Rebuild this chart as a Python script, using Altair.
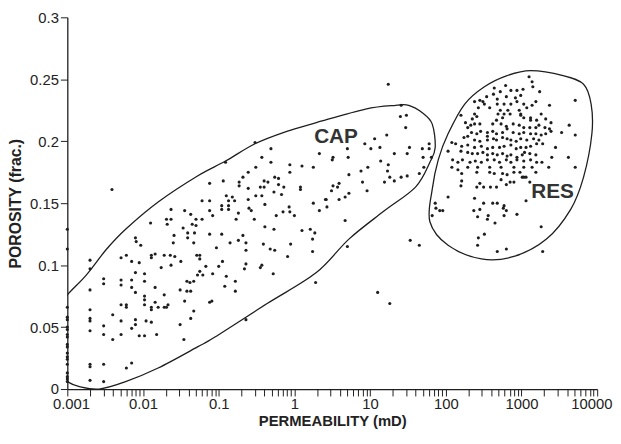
import altair as alt
import pandas as pd

# Porosity of samples plotted on the 0.001 mD axis line
axis_phi = [0.129, 0.113, 0.066, 0.058, 0.056, 0.050, 0.048, 0.044, 0.042, 0.036,
            0.034, 0.029, 0.026, 0.024, 0.020, 0.013, 0.010, 0.008, 0.006]

# Cap-rock samples: [log10 permeability (mD), porosity (frac.)]
cap_pts = [
    [-2.70, 0.104], [-2.70, 0.097], [-2.70, 0.080], [-2.70, 0.064], [-2.70, 0.057], [-2.70, 0.055],
    [-2.70, 0.047], [-2.70, 0.020], [-2.70, 0.018], [-2.70, 0.007],
    [-2.52, 0.089], [-2.52, 0.085], [-2.52, 0.051], [-2.52, 0.044], [-2.52, 0.020], [-2.52, 0.006],
    [-2.40, 0.060], [-2.40, 0.040], [-2.41, 0.161],
    [-2.29, 0.106], [-2.29, 0.088], [-2.29, 0.084], [-2.29, 0.068], [-2.29, 0.055], [-2.29, 0.044],
    [-2.22, 0.108], [-2.22, 0.068], [-2.22, 0.066], [-2.22, 0.017],
    [-2.15, 0.103], [-2.15, 0.088], [-2.15, 0.082], [-2.15, 0.049], [-2.15, 0.021],
    [-2.10, 0.094], [-2.10, 0.078], [-2.10, 0.056], [-2.10, 0.052],
    [-2.05, 0.102], [-2.05, 0.043],
    [-1.98, 0.093], [-1.98, 0.087], [-1.98, 0.075], [-1.98, 0.072], [-1.98, 0.068], [-1.98, 0.043], [-1.96, 0.055],
    [-1.89, 0.108], [-1.89, 0.106], [-1.89, 0.066], [-1.89, 0.064], [-1.89, 0.054],
    [-1.84, 0.109], [-1.84, 0.082], [-1.84, 0.070], [-1.82, 0.044], [-1.80, 0.066], [-1.76, 0.098],
    [-1.72, 0.108], [-1.72, 0.076], [-1.72, 0.066], [-1.69, 0.066], [-1.67, 0.068], [-1.64, 0.108],
    [-1.63, 0.100], [-1.58, 0.107],
    [-1.51, 0.080], [-1.51, 0.052], [-1.50, 0.103], [-1.46, 0.040], [-1.45, 0.071], [-1.42, 0.087], [-1.42, 0.079],
    [-1.37, 0.079], [-1.37, 0.057], [-1.33, 0.087], [-1.33, 0.063],
    [-2.10, 0.122], [-2.09, 0.119], [-2.03, 0.116], [-1.90, 0.134],
    [-1.69, 0.137], [-1.63, 0.137], [-1.68, 0.133], [-1.63, 0.145], [-1.59, 0.124], [-1.60, 0.118],
    [-1.47, 0.130], [-1.45, 0.144], [-1.41, 0.126], [-1.41, 0.122], [-1.37, 0.141], [-1.35, 0.133],
    [-1.32, 0.126], [-1.33, 0.118], [-1.30, 0.137], [-1.30, 0.132], [-1.29, 0.108], [-1.25, 0.108],
    [-1.22, 0.137], [-1.22, 0.152], [-1.12, 0.166], [-1.12, 0.152], [-1.12, 0.144], [-1.12, 0.125],
    [-1.08, 0.140], [-1.03, 0.114],
    [-0.96, 0.148], [-0.96, 0.145], [-0.96, 0.125], [-0.94, 0.168], [-0.91, 0.183], [-0.90, 0.156],
    [-0.87, 0.152], [-0.87, 0.148], [-0.87, 0.145], [-0.85, 0.118], [-0.82, 0.155], [-0.79, 0.152],
    [-0.77, 0.137], [-0.74, 0.142], [-0.74, 0.120], [-0.73, 0.167], [-0.73, 0.164], [-0.68, 0.171],
    [-0.68, 0.124], [-0.64, 0.118], [-0.64, 0.112], [-0.61, 0.175], [-0.61, 0.162], [-0.61, 0.153],
    [-0.60, 0.146], [-0.57, 0.144], [-0.53, 0.137], [-0.52, 0.199], [-0.51, 0.179], [-0.51, 0.156],
    [-0.31, 0.194], [-0.43, 0.187], [-0.31, 0.183], [-0.06, 0.181], [0.10, 0.180], [0.25, 0.179], [0.33, 0.190],
    [-0.40, 0.168], [-0.35, 0.167], [-0.45, 0.163], [-0.40, 0.163], [-0.26, 0.171], [-0.21, 0.170],
    [-0.21, 0.165], [-0.14, 0.163], [-0.06, 0.175], [0.08, 0.163], [0.08, 0.161], [-0.27, 0.159],
    [-0.17, 0.157], [-0.43, 0.156], [-0.39, 0.149], [-0.07, 0.147], [-0.06, 0.143], [-0.15, 0.143],
    [0.00, 0.140], [0.25, 0.150], [0.33, 0.144], [0.41, 0.153], [-0.24, 0.140],
    [-0.39, 0.131], [-0.27, 0.129], [0.10, 0.128], [0.21, 0.129], [0.27, 0.126], [0.24, 0.121],
    [-0.41, 0.117], [-0.05, 0.117], [-0.32, 0.113], [-0.26, 0.112], [0.24, 0.111], [-1.25, 0.105],
    [-0.09, 0.107], [-0.95, 0.103], [-1.00, 0.099], [-1.17, 0.099], [-0.64, 0.101], [-0.66, 0.097],
    [-0.43, 0.100], [-0.45, 0.098], [-1.25, 0.095], [-1.28, 0.092], [-1.21, 0.092], [-1.08, 0.093],
    [-0.90, 0.091], [-0.78, 0.087], [-0.28, 0.093], [-1.38, 0.086], [-0.92, 0.083], [-0.78, 0.079],
    [-1.12, 0.070], [-1.09, 0.071], [-0.64, 0.056], [0.28, 0.086],
    [1.24, 0.246], [1.41, 0.229], [1.40, 0.220], [1.48, 0.221], [1.47, 0.211], [1.22, 0.205], [1.06, 0.202],
    [0.93, 0.198], [1.01, 0.194], [1.13, 0.195], [0.70, 0.194], [0.71, 0.187], [0.51, 0.187], [0.50, 0.185],
    [1.32, 0.190], [1.49, 0.190], [1.52, 0.195], [1.69, 0.194], [1.78, 0.198], [1.78, 0.194], [1.81, 0.187],
    [1.70, 0.187], [1.14, 0.184], [1.24, 0.181], [1.23, 0.176], [1.26, 0.171], [1.32, 0.168], [1.19, 0.167],
    [1.41, 0.171], [1.49, 0.172], [1.65, 0.174], [1.71, 0.179], [0.97, 0.179], [0.88, 0.176], [0.72, 0.173],
    [0.59, 0.166], [0.51, 0.164], [0.57, 0.163], [0.49, 0.160], [0.90, 0.167], [0.96, 0.160], [0.72, 0.158],
    [0.67, 0.155], [0.59, 0.153], [0.42, 0.153], [0.43, 0.147], [0.67, 0.136], [0.70, 0.115],
    [1.10, 0.078], [1.26, 0.069], [1.53, 0.120], [1.65, 0.116],
]

# Reservoir samples: [log10 permeability (mD), porosity (frac.)]
res_pts = [
    [1.86, 0.150], [1.87, 0.146], [1.92, 0.144], [1.96, 0.144], [1.82, 0.140],
    [3.10, 0.252], [3.14, 0.248], [3.15, 0.244], [3.24, 0.240], [2.64, 0.243], [2.79, 0.245], [2.86, 0.241],
    [2.94, 0.241], [3.02, 0.242], [2.72, 0.240], [2.54, 0.236], [2.63, 0.238], [2.68, 0.234], [2.80, 0.236],
    [2.92, 0.235], [2.99, 0.237], [2.45, 0.233], [2.49, 0.232], [2.51, 0.230], [2.38, 0.232], [2.68, 0.230],
    [2.77, 0.230], [2.86, 0.230], [2.94, 0.232], [3.03, 0.230], [3.14, 0.229], [3.19, 0.232], [3.37, 0.229],
    [3.71, 0.233], [2.43, 0.227], [2.58, 0.227], [2.72, 0.225], [2.82, 0.225], [2.97, 0.225], [2.99, 0.222],
    [3.07, 0.227], [2.20, 0.221], [2.38, 0.222], [2.41, 0.220], [2.35, 0.218], [2.69, 0.222], [2.77, 0.222],
    [2.85, 0.222], [2.75, 0.219], [2.67, 0.217], [2.99, 0.221], [3.03, 0.219], [3.12, 0.219], [3.26, 0.222],
    [3.12, 0.217], [3.20, 0.217], [3.32, 0.218], [3.39, 0.215], [2.26, 0.215], [2.33, 0.213], [2.38, 0.214],
    [2.45, 0.214], [2.62, 0.214], [2.73, 0.214], [2.80, 0.212], [2.89, 0.214], [2.97, 0.213], [3.03, 0.211],
    [3.11, 0.211], [3.19, 0.211], [3.23, 0.213], [3.31, 0.211], [3.37, 0.210], [3.39, 0.208], [3.53, 0.207],
    [3.63, 0.213], [3.71, 0.205], [2.29, 0.211], [2.34, 0.207], [2.41, 0.206], [2.46, 0.208], [2.55, 0.207],
    [2.62, 0.208], [2.67, 0.206], [2.75, 0.207], [2.81, 0.210], [2.89, 0.207], [2.97, 0.206], [3.03, 0.207],
    [3.12, 0.206], [3.19, 0.206], [3.26, 0.205], [3.32, 0.206], [2.24, 0.203], [2.29, 0.204], [2.38, 0.201],
    [2.45, 0.200], [2.55, 0.204], [2.55, 0.201], [2.63, 0.202], [2.67, 0.201], [2.75, 0.203], [2.81, 0.202],
    [2.86, 0.201], [2.93, 0.200], [2.99, 0.202], [3.07, 0.201], [3.16, 0.202], [3.23, 0.201], [2.08, 0.199],
    [2.13, 0.198], [2.03, 0.192], [2.21, 0.196], [2.29, 0.197], [2.38, 0.195], [2.47, 0.196], [2.55, 0.194],
    [2.62, 0.195], [2.71, 0.195], [2.77, 0.196], [2.86, 0.197], [2.93, 0.194], [2.99, 0.195], [3.06, 0.195],
    [3.12, 0.196], [3.20, 0.198], [3.28, 0.198], [3.45, 0.195], [2.20, 0.192], [2.29, 0.191], [2.35, 0.190],
    [2.42, 0.190], [2.49, 0.191], [2.55, 0.189], [2.62, 0.190], [2.68, 0.189], [2.75, 0.190], [2.81, 0.188],
    [2.86, 0.189], [2.94, 0.187], [3.01, 0.189], [3.04, 0.191], [3.11, 0.190], [3.19, 0.189], [2.09, 0.185],
    [2.16, 0.183], [2.22, 0.185], [2.32, 0.183], [2.39, 0.184], [2.47, 0.183], [2.55, 0.185], [2.64, 0.185],
    [2.71, 0.183], [2.80, 0.185], [2.86, 0.183], [2.94, 0.185], [3.03, 0.184], [3.12, 0.185], [3.20, 0.183],
    [3.27, 0.183], [3.40, 0.187], [3.62, 0.187], [2.29, 0.179], [2.42, 0.179], [2.58, 0.179], [2.73, 0.179],
    [2.90, 0.179], [3.03, 0.179], [3.14, 0.179], [3.36, 0.179], [3.71, 0.179],
    [2.08, 0.179], [2.16, 0.177], [2.21, 0.174], [2.41, 0.175], [2.58, 0.175], [2.64, 0.174], [2.75, 0.174],
    [2.81, 0.173], [2.90, 0.175], [2.98, 0.175], [3.03, 0.171], [3.19, 0.175],
    [2.21, 0.168], [2.20, 0.164], [2.41, 0.163], [2.45, 0.166], [2.50, 0.163], [2.59, 0.163], [2.67, 0.163],
    [2.73, 0.169], [2.80, 0.165], [2.85, 0.167], [2.90, 0.167], [3.01, 0.171], [3.06, 0.171], [3.11, 0.167],
    [2.03, 0.155], [2.38, 0.154], [2.50, 0.150], [2.62, 0.150], [2.68, 0.150], [2.77, 0.148], [2.76, 0.146],
    [2.80, 0.144], [3.06, 0.152], [2.37, 0.144], [2.45, 0.145], [2.42, 0.139], [2.56, 0.140], [2.55, 0.137],
    [2.65, 0.134], [2.77, 0.140], [2.94, 0.141], [3.26, 0.131], [2.51, 0.125], [2.43, 0.122], [2.42, 0.116],
    [2.68, 0.111], [2.80, 0.113], [3.28, 0.111],
]

# Hand-drawn group outlines: [log10 permeability, porosity]
cap_outline = [
    [-3.24, 0.058], [-3.00, 0.076], [-2.75, 0.092], [-2.48, 0.113], [-2.23, 0.129], [-1.80, 0.151],
    [-1.28, 0.172], [-0.91, 0.184], [-0.52, 0.198], [-0.10, 0.208], [0.29, 0.215], [0.94, 0.226],
    [1.34, 0.229], [1.51, 0.229], [1.69, 0.223], [1.82, 0.214], [1.86, 0.195], [1.79, 0.183],
    [1.60, 0.163], [1.17, 0.143], [0.72, 0.121], [0.29, 0.094], [-0.36, 0.069], [-1.05, 0.042],
    [-1.28, 0.034], [-1.80, 0.017], [-2.23, 0.006], [-2.58, 0.000], [-2.84, 0.002], [-3.00, 0.006],
    [-3.21, 0.017], [-3.31, 0.036],
]
res_outline = [
    [3.12, 0.257], [3.55, 0.253], [3.82, 0.246], [3.92, 0.230], [3.93, 0.206], [3.82, 0.171],
    [3.65, 0.145], [3.33, 0.121], [2.90, 0.107], [2.47, 0.105], [2.03, 0.116], [1.79, 0.135],
    [1.82, 0.161], [1.90, 0.185], [2.03, 0.206], [2.25, 0.230], [2.51, 0.244], [2.81, 0.253],
]

group_labels = ["CAP", "RES"]
label_logk = [0.55, 3.41]
label_phi = [0.203, 0.159]

x_ticks = [m * 10.0 ** e for e in range(-3, 4) for m in range(1, 10)] + [10000.0]
x_decades = [0.001, 0.01, 0.1, 1, 10, 100, 1000, 10000]
y_ticks = [0, 0.05, 0.1, 0.15, 0.2, 0.25, 0.3]

# ---- tables ----
pts = pd.DataFrame(
    [{"k": 10 ** lk, "phi": p} for lk, p in cap_pts + res_pts]
    + [{"k": 0.001, "phi": p} for p in axis_phi]
)
outl = pd.DataFrame(
    [{"k": 10 ** lk, "phi": p, "grp": "CAP", "o": i} for i, (lk, p) in enumerate(cap_outline)]
    + [{"k": 10 ** lk, "phi": p, "grp": "RES", "o": i} for i, (lk, p) in enumerate(res_outline)]
)
labs = pd.DataFrame({"k": [10 ** v for v in label_logk], "phi": label_phi, "txt": group_labels})

LABEL_FONT = "Liberation Sans Narrow, Arial Narrow, Liberation Sans, sans-serif"
TITLE_FONT = "Liberation Sans, Arial, sans-serif"
INK = "#1e1e1e"

decade_list = "[" + ",".join(repr(float(d)) for d in x_decades) + "]"
x_enc = alt.X(
    "k:Q",
    scale=alt.Scale(type="log", domain=[0.001, 10000], nice=False),
    axis=alt.Axis(
        values=x_ticks,
        labelExpr=f"indexof({decade_list}, datum.value) >= 0 ? format(datum.value, '~g') : ''",
        title="PERMEABILITY (mD)",
        tickSize=7, labelPadding=1, labelFlush=True, labelFlushOffset=15,
        labelOverlap=False, grid=False,
        titleY=37, titleBaseline="alphabetic", titleFontSize=15,
    ),
)
y_enc = alt.Y(
    "phi:Q",
    scale=alt.Scale(domain=[0, 0.3], nice=False, zero=False),
    axis=alt.Axis(
        values=y_ticks, format="~g", title="POROSITY (frac.)",
        tickSize=7, labelPadding=2, labelFlush=False, labelOverlap=False, grid=False,
        titleX=-52, titleBaseline="middle", titleFontSize=16,
    ),
)

outline_layer = alt.Chart(outl).mark_line(
    interpolate="cardinal-closed", clip=True, color=INK, strokeWidth=1.3
).encode(x=x_enc, y=y_enc, detail="grp:N", order="o:Q")

point_layer = alt.Chart(pts).mark_circle(size=10, color=INK, opacity=1).encode(x=x_enc, y=y_enc)

label_layer = alt.Chart(labs).mark_text(
    font=TITLE_FONT, fontWeight="bold", fontSize=21, color="#333333", align="center", baseline="middle"
).encode(x=x_enc, y=y_enc, text="txt:N")

chart = (
    alt.layer(outline_layer, point_layer, label_layer)
    .properties(
        width=536, height=376,
        padding={"left": 60, "top": 7, "right": 16, "bottom": 39},
        autosize="none",
    )
    .configure_view(stroke=None)
    .configure_axis(
        domainColor=INK, tickColor=INK, domainWidth=1.3, tickWidth=1,
        labelFont=LABEL_FONT, labelFontSize=15, labelColor="#222222",
        titleFont=TITLE_FONT, titleFontWeight="bold", titleColor="#222222",
    )
)

chart.save("out.html", embed_options={"renderer": "svg", "actions": False})
